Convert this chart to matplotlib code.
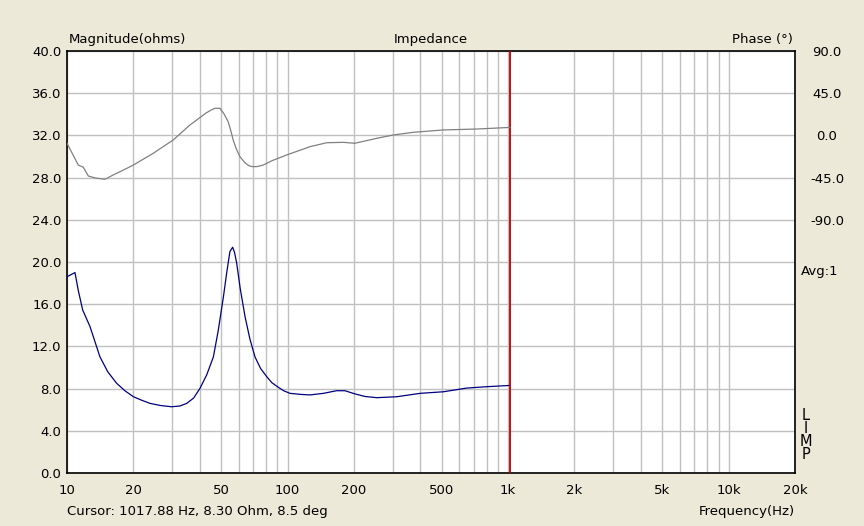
import matplotlib
matplotlib.use("Agg")
import matplotlib.pyplot as plt
from matplotlib.ticker import FixedLocator, NullFormatter, LogLocator

# impedance magnitude (ohms)
mag_freq = [10, 10.87, 11.25, 11.78, 12.72, 14.11, 15.3, 16.8, 18.3, 20, 21.8,
            23.8, 26.5, 29.8, 32.5, 34.9, 37.5, 40.1, 43, 46.1, 48.5, 51.2, 53,
            54.8, 56.4, 57.5, 58.8, 61, 64.2, 67.5, 71.2, 75.5, 80.5, 85, 90.9,
            96, 102.6, 115, 126.5, 145.4, 167, 182, 202, 225, 254, 313, 399,
            509, 650, 801, 1017.88]
mag_ohm = [18.6, 19.0, 17.3, 15.45, 13.87, 11.0, 9.6, 8.5, 7.8, 7.23, 6.9,
           6.6, 6.4, 6.28, 6.35, 6.6, 7.1, 8.03, 9.3, 11.0, 13.5, 16.7, 19.0,
           21.0, 21.4, 20.9, 19.9, 17.5, 14.8, 12.7, 11.0, 9.9, 9.13, 8.55, 8.12,
           7.8, 7.55, 7.45, 7.4, 7.55, 7.8, 7.8, 7.5, 7.25, 7.14, 7.23, 7.55,
           7.7, 8.05, 8.18, 8.30]

# phase (degrees)
ph_freq = [10, 11.25, 11.86, 12.49, 13.5, 14.87, 16.2, 18, 20, 24.6, 30.3, 36.1,
           42.9, 45, 46.8, 49.4, 51.5, 53.8, 55.3, 56.7, 58.5, 60.8, 64, 67,
           69.9, 73, 77.6, 85, 99, 126.5, 150.6, 179, 202, 254, 301, 371, 509,
           721, 1017.88]
ph_deg = [-8.4, -31.6, -34, -43.3, -45.5, -46.8, -42.2, -37, -31.6, -19.1, -4.9,
          11.1, 24.2, 27, 28.9, 28.9, 23, 14.6, 5, -4.9, -14, -22.7, -29, -32.5,
          -33.4, -33.2, -31.6, -27, -20.9, -12, -7.8, -7.4, -8.4, -3.1, 0.4,
          3.3, 5.8, 6.8, 8.5]

cursor_hz = 1017.88
x_ticks = [10, 20, 50, 100, 200, 500, 1000, 2000, 5000, 10000, 20000]
x_labels = ["10", "20", "50", "100", "200", "500", "1k", "2k", "5k", "10k", "20k"]
mag_ticks = [0, 4, 8, 12, 16, 20, 24, 28, 32, 36, 40]
phase_ticks = [90, 45, 0, -45, -90]

bg = "#ECE9D8"
plt.rcParams["font.family"] = ["DejaVu Sans"]
plt.rcParams["font.size"] = 9.5

fig = plt.figure(figsize=(8.64, 5.26), dpi=100, facecolor=bg)
ax = fig.add_axes([67 / 864, 53 / 526, 728 / 864, 422 / 526])
ax.set_facecolor("white")
ax.set_xscale("log")
ax.set_xlim(10, 20000)
ax.set_ylim(0, 40)

ax.xaxis.set_major_locator(FixedLocator(x_ticks))
ax.set_xticklabels(x_labels)
ax.xaxis.set_minor_locator(LogLocator(base=10, subs=range(1, 10)))
ax.xaxis.set_minor_formatter(NullFormatter())
ax.set_yticks(mag_ticks)
ax.set_yticklabels([f"{v:.1f}" for v in mag_ticks])
ax.grid(True, which="both", axis="x", color="#C0C0C0", lw=1)
ax.grid(True, which="major", axis="y", color="#C0C0C0", lw=1)
ax.tick_params(which="both", length=0)
ax.tick_params(axis="x", pad=8)
ax.tick_params(axis="y", pad=4)
for s in ax.spines.values():
    s.set_color("black")
    s.set_linewidth(1.2)

# phase scale: 45 deg per 4 ohms, 0 deg at 32 ohms
ax2 = ax.twinx()
ax2.set_ylim((0 - 32) * 45 / 4, (40 - 32) * 45 / 4)
ax2.set_yticks(phase_ticks)
ax2.set_yticklabels([f"{v:.1f}" for v in phase_ticks])
ax2.tick_params(length=0, pad=23)
for lab in ax2.get_yticklabels():
    lab.set_ha("center")
for s in ax2.spines.values():
    s.set_visible(False)

ax2.plot(ph_freq, ph_deg, color="#808080", lw=0.9)
ax.plot(mag_freq, mag_ohm, color="#000080", lw=0.9, zorder=3)
ax.axvline(cursor_hz, color="#C00000", lw=1.3, zorder=4)

fig.text(69 / 864, 1 - 40 / 526, "Magnitude(ohms)", ha="left", va="center")
fig.text(431 / 864, 1 - 40 / 526, "Impedance", ha="center", va="center")
fig.text(793 / 864, 1 - 40 / 526, "Phase (°)", ha="right", va="center")
fig.text(801 / 864, 1 - 271 / 526, "Avg:1", ha="left", va="center")
fig.text(806 / 864, 1 - 435 / 526, "L\nI\nM\nP", ha="center", va="center",
         linespacing=0.85, fontsize=10.5)
fig.text(67 / 864, 1 - 512 / 526, "Cursor: 1017.88 Hz, 8.30 Ohm, 8.5 deg",
         ha="left", va="center")
fig.text(795 / 864, 1 - 512 / 526, "Frequency(Hz)", ha="right", va="center")

fig.savefig("out.png", dpi=100, facecolor=bg)
